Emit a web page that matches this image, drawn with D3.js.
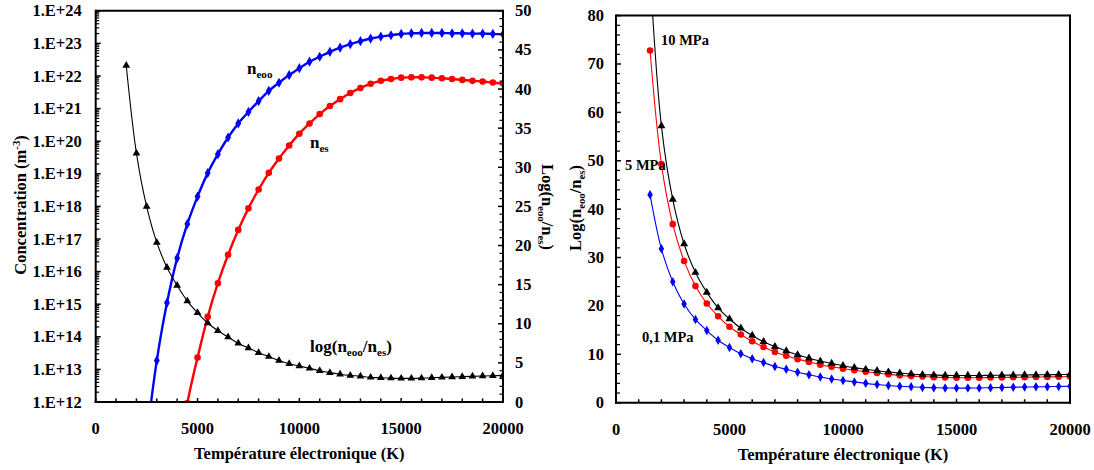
<!DOCTYPE html>
<html><head><meta charset="utf-8">
<script src="https://cdn.jsdelivr.net/npm/d3@7"></script>
<style>
body{margin:0;background:#fff}
svg{display:block}
text{font-family:"Liberation Serif","Times New Roman",serif;font-weight:bold;fill:#000}
</style>
</head><body>
<svg id="c" width="1094" height="470"></svg>
<script>
// ---------- DATA ----------
const temps = [1500,2000,2500,3000,3500,4000,4500,5000,5500,6000,6500,7000,7500,8000,8500,9000,9500,10000,
  10500,11000,11500,12000,12500,13000,13500,14000,14500,15000,15500,16000,16500,17000,17500,18000,18500,19000,19500,20000];

// Left chart: concentrations (m^-3)
const tempsEoo = [2500,3000,3500,4000,4500,5000,5500,6000,6500,7000,7500,8000,8500,9000,9500,10000,
  10500,11000,11500,12000,12500,13000,13500,14000,14500,15000,15500,16000,16500,17000,17500,18000,18500,19000,19500,20000];
const nEoo = [7.9e10,1.86e13,1.1e15,2.6e16,2.9e17,2.0e18,1.05e19,4.0e19,1.3e20,3.5e20,7.9e20,1.7e21,3.5e21,6.2e21,1.07e22,1.74e22,
  2.75e22,3.9e22,5.5e22,7.4e22,9.5e22,1.17e23,1.41e23,1.62e23,1.78e23,1.95e23,2.04e23,2.09e23,2.09e23,2.09e23,2.04e23,2.04e23,2.0e23,2.0e23,1.95e23,1.9e23];

const tempsEs = [4000,4500,5000,5500,6000,6500,7000,7500,8000,8500,9000,9500,10000,
  10500,11000,11500,12000,12500,13000,13500,14000,14500,15000,15500,16000,16500,17000,17500,18000,18500,19000,19500,20000];
const nEs = [1.0e10,9.3e11,2.3e13,4.1e14,4.4e15,3.3e16,1.9e17,8.7e17,3.3e18,1.07e19,2.95e19,7.4e19,1.7e20,
  3.5e20,6.8e20,1.2e21,1.95e21,3.0e21,4.3e21,5.75e21,7.1e21,8.1e21,8.9e21,9.1e21,9.1e21,8.9e21,8.5e21,8.1e21,7.6e21,7.1e21,6.8e21,6.3e21,5.9e21];

// log(n_eoo/n_es) at three pressures
const ratio01MPa = [43.0,31.8,25.0,20.4,17.2,14.9,12.9,11.4,10.1,9.1,8.3,7.5,6.9,6.3,5.8,5.3,4.9,4.6,
  4.3,4.0,3.75,3.55,3.4,3.3,3.15,3.1,3.05,3.02,3.02,3.05,3.1,3.15,3.2,3.24,3.28,3.32,3.36,3.4];
const ratio5MPa = [72.8,49.3,36.9,29.3,24.1,20.5,17.85,15.7,14.1,12.7,11.5,10.5,9.7,9.0,8.4,7.86,7.44,7.03,
  6.7,6.4,6.13,5.86,5.65,5.5,5.4,5.28,5.2,5.17,5.15,5.17,5.2,5.22,5.25,5.28,5.3,5.33,5.36,5.4];
const ratio10MPa = [89,57.2,42.0,32.8,26.9,22.8,19.6,17.3,15.4,13.9,12.6,11.6,10.7,9.9,9.2,8.6,8.1,7.65,
  7.24,6.9,6.6,6.34,6.13,5.93,5.79,5.72,5.65,5.63,5.62,5.63,5.65,5.68,5.7,5.73,5.76,5.79,5.82,5.86];

// Ticks
const xTicks = [0,5000,10000,15000,20000];
const xMinor = [1000,2000,3000,4000,6000,7000,8000,9000,11000,12000,13000,14000,16000,17000,18000,19000];
const concExponents = [12,13,14,15,16,17,18,19,20,21,22,23,24];
const ratioTicksLeft = [0,5,10,15,20,25,30,35,40,45,50];
const ratioTicksRight = [0,10,20,30,40,50,60,70,80];

// Text
const xTitle = "Température électronique (K)";
const pressureLabels = ["10 MPa","5 MPa","0,1 MPa"];

// ---------- DRAW ----------
const svg = d3.select("#c");
const FS = 16.5;

function rich(g, x, y, parts, size, anchor, rot){
  const t = g.append("text").attr("x",x).attr("y",y).attr("font-size",size).attr("text-anchor",anchor||"start");
  if(rot) t.attr("transform",`rotate(${rot},${x},${y})`);
  let off = 0;
  parts.forEach(p=>{
    const s = t.append("tspan").text(p.t);
    let target = 0;
    if(p.sub){ s.attr("font-size", size*0.65); target = size*0.22; }
    if(p.sup){ s.attr("font-size", size*0.65); target = -size*0.38; }
    if(target-off !== 0) s.attr("dy", target-off);
    off = target;
  });
  return t;
}

// ===== LEFT CHART =====
const L = {x0:95.7, x1:503, y0:10.8, y1:402};
const xL = d3.scaleLinear().domain([0,20000]).range([L.x0,L.x1]);
const yLog = d3.scaleLog().domain([1e12,1e24]).range([L.y1,L.y0]);
const yRat = d3.scaleLinear().domain([0,50]).range([L.y1,L.y0]);

svg.append("clipPath").attr("id","clipL").append("rect")
  .attr("x",L.x0).attr("y",L.y0).attr("width",L.x1-L.x0).attr("height",L.y1-L.y0);

const gL = svg.append("g");
const plotL = gL.append("g").attr("clip-path","url(#clipL)");

const curve = d3.curveCatmullRom.alpha(0.5);

function series(g, xs, ys, xScale, yScale, color, width, marker, msize){
  const pts = xs.map((x,i)=>[xScale(x), yScale(ys[i])]);
  g.append("path").attr("d", d3.line().curve(curve)(pts))
    .attr("fill","none").attr("stroke",color).attr("stroke-width",width);
  const sym = d3.symbol().type(marker).size(msize);
  g.selectAll(null).data(pts).enter().append("path")
    .attr("d", sym).attr("transform", d=>`translate(${d[0]},${d[1]})`)
    .attr("fill", color).attr("stroke","none");
}

series(plotL, tempsEoo, nEoo, xL, yLog, "#0000ff", 2.4, d3.symbolDiamond, 30);
series(plotL, tempsEs, nEs, xL, yLog, "#ff0000", 2.4, d3.symbolCircle, 34);
series(plotL, temps, ratio01MPa, xL, yRat, "#000000", 1.1, d3.symbolTriangle, 26);

// axes left chart
function line(g,x1,y1,x2,y2,w){ g.append("line").attr("x1",x1).attr("y1",y1).attr("x2",x2).attr("y2",y2).attr("stroke","#000").attr("stroke-width",w||1); }

// x axis ticks (inward)
xTicks.forEach(v=>line(gL, xL(v), L.y1, xL(v), L.y1-4, 1.5));
xMinor.forEach(v=>line(gL, xL(v), L.y1, xL(v), L.y1-3.5, 1.5));
xTicks.forEach(v=>gL.append("text").attr("x",xL(v)).attr("y",L.y1+32).attr("text-anchor","middle").attr("font-size",FS).text(v));

// left log axis
concExponents.forEach(e=>{
  const v = Math.pow(10,e);
  line(gL, L.x0, yLog(v), L.x0+5, yLog(v), 1.5);
  gL.append("text").attr("x",L.x0-14).attr("y",yLog(v)+5.5).attr("text-anchor","end").attr("font-size",FS).text("1.E+"+e);
  if(e<24){ for(let m=2;m<=9;m++){ const mv=m*v; line(gL, L.x0, yLog(mv), L.x0+3.5, yLog(mv), 1.2);} }
});
// right linear axis
ratioTicksLeft.forEach(v=>{
  line(gL, L.x1, yRat(v), L.x1-5, yRat(v), 1.5);
  gL.append("text").attr("x",L.x1+12).attr("y",yRat(v)+5.5).attr("text-anchor","start").attr("font-size",FS).text(v);
});
for(let v=1; v<50; v++){ if(v%5) line(gL, L.x1, yRat(v), L.x1-3.5, yRat(v), 1.2); }

// frame
line(gL, L.x0, L.y0, L.x1, L.y0, 2);
line(gL, L.x0, L.y0-1, L.x0, L.y1+1, 2);
line(gL, L.x1, L.y0-1, L.x1, L.y1+1, 2);
line(gL, L.x0-1, L.y1, L.x1+1, L.y1, 2);

// titles
gL.append("text").attr("x",(L.x0+L.x1)/2).attr("y",459).attr("text-anchor","middle").attr("font-size",FS).text(xTitle);
rich(gL, 26, 205, [{t:"Concentration (m"},{t:"-3",sup:true},{t:")"}], FS, "middle", -90);
rich(gL, 542, 207, [{t:"Log(n"},{t:"eoo",sub:true},{t:"/n"},{t:"es",sub:true},{t:")"}], FS, "middle", 90);

// series labels
rich(gL, 247, 74, [{t:"n"},{t:"eoo",sub:true}], 17);
rich(gL, 310, 148, [{t:"n"},{t:"es",sub:true}], 17);
rich(gL, 310, 352, [{t:"log(n"},{t:"eoo",sub:true},{t:"/n"},{t:"es",sub:true},{t:")"}], 17);

// ===== RIGHT CHART =====
const R = {x0:616, x1:1070, y0:15.6, y1:402.7};
const xR = d3.scaleLinear().domain([0,20000]).range([R.x0,R.x1]);
const yR = d3.scaleLinear().domain([0,80]).range([R.y1,R.y0]);

svg.append("clipPath").attr("id","clipR").append("rect")
  .attr("x",R.x0).attr("y",R.y0).attr("width",R.x1-R.x0).attr("height",R.y1-R.y0);
const gR = svg.append("g");
const plotR = gR.append("g").attr("clip-path","url(#clipR)");

series(plotR, temps, ratio01MPa, xR, yR, "#0000ff", 1.1, d3.symbolDiamond, 26);
series(plotR, temps, ratio5MPa, xR, yR, "#ff0000", 1.1, d3.symbolCircle, 34);
series(plotR, temps, ratio10MPa, xR, yR, "#000000", 1.1, d3.symbolTriangle, 28);

xTicks.forEach(v=>line(gR, xR(v), R.y1, xR(v), R.y1-4, 1.5));
xMinor.forEach(v=>line(gR, xR(v), R.y1, xR(v), R.y1-3.5, 1.5));
xTicks.forEach(v=>gR.append("text").attr("x",xR(v)).attr("y",R.y1+32).attr("text-anchor","middle").attr("font-size",FS).text(v));
ratioTicksRight.forEach(v=>{
  line(gR, R.x0, yR(v), R.x0+5, yR(v), 1.5);
  gR.append("text").attr("x",R.x0-12).attr("y",yR(v)+5.5).attr("text-anchor","end").attr("font-size",FS).text(v);
});
for(let v=2; v<80; v+=2){ if(v%10) line(gR, R.x0, yR(v), R.x0+4, yR(v), 1.2); }

line(gR, R.x0, R.y0, R.x1, R.y0, 2);
line(gR, R.x0, R.y0-1, R.x0, R.y1+1, 2);
line(gR, R.x1, R.y0-1, R.x1, R.y1+1, 2);
line(gR, R.x0-1, R.y1, R.x1+1, R.y1, 2);

gR.append("text").attr("x",(R.x0+R.x1)/2).attr("y",460).attr("text-anchor","middle").attr("font-size",FS).text(xTitle);
rich(gR, 581, 208, [{t:"Log(n"},{t:"eoo",sub:true},{t:"/n"},{t:"es",sub:true},{t:")"}], FS, "middle", -90);

gR.append("text").attr("x",661).attr("y",45).attr("font-size",14.5).text(pressureLabels[0]);
gR.append("text").attr("x",625).attr("y",170).attr("font-size",14.5).text(pressureLabels[1]);
gR.append("text").attr("x",642).attr("y",342).attr("font-size",14.5).text(pressureLabels[2]);
</script>
</body></html>
